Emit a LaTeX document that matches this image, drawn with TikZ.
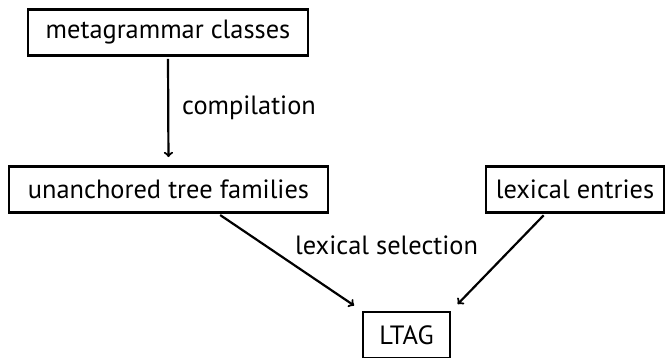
\documentclass[tikz,border=0pt]{standalone}
\usepackage{fontspec}
\setmainfont{PT Sans}
\usetikzlibrary{calc}
\begin{document}
\begin{tikzpicture}[x=1pt,y=-1pt,
  box/.style={draw,line width=2.8pt,inner sep=0pt,minimum height=46pt,font=\fontsize{26.4}{30}\selectfont},
  lbl/.style={font=\fontsize{26.4}{30}\selectfont,inner sep=0pt},
  conn/.style={->,line width=2.2pt}]
\useasboundingbox (0,0) rectangle (666,358);
\node[box,minimum width=280pt] (meta) at (168,32.5) {metagrammar classes};
\node[box,minimum width=319pt] (unanch) at (168.5,189.5) {unanchored tree families};
\node[box,minimum width=178pt] (lexent) at (575,189.5) {lexical entries};
\node[box,minimum width=87pt] (ltag) at (406.5,335) {LTAG};
\draw[conn,shorten <=2pt,shorten >=8pt] (meta.south) -- (unanch.north);
\node[lbl,anchor=base west] (comp) at (182,115) {compilation};
\draw[conn,shorten <=2pt,shorten >=9pt] ($(unanch.south)+(50,0)$) -- (ltag.north west);
\draw[conn,shorten <=2pt,shorten >=9pt] ($(lexent.south)+(-30,0)$) -- (ltag.north east);
\node[lbl,anchor=base west] (lexsel) at (295,254) {lexical selection};
\end{tikzpicture}
\end{document}
